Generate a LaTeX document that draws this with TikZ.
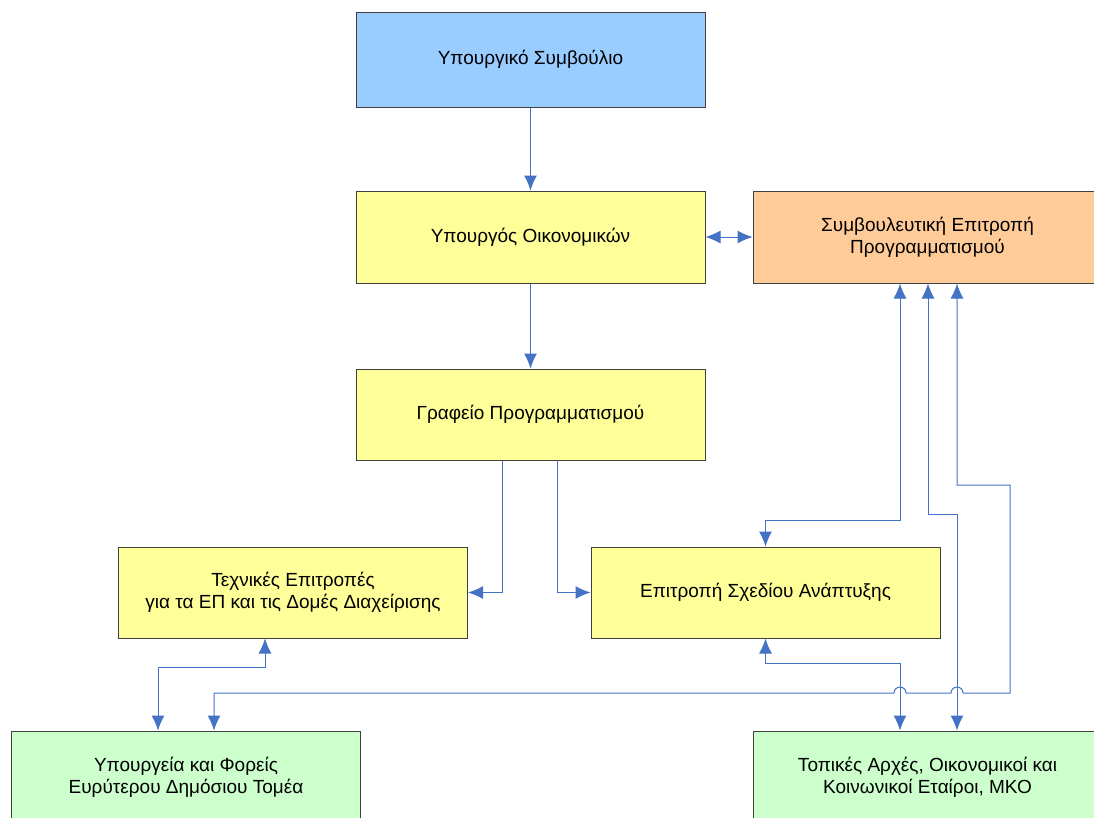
\documentclass[tikz,border=0pt]{standalone}
\usepackage{fontspec}
\setmainfont{Liberation Sans}
\usetikzlibrary{arrows.meta}

\definecolor{linkblue}{HTML}{4472C4}
\definecolor{boxblue}{HTML}{99CCFF}
\definecolor{boxyellow}{HTML}{FFFF99}
\definecolor{boxorange}{HTML}{FFCC99}
\definecolor{boxgreen}{HTML}{CCFFCC}

\tikzset{
  box/.style={draw=black!75, line width=1pt, minimum width=349pt, minimum height=92pt,
    align=center, inner sep=0pt, font=\fontsize{19}{22}\selectfont},
  link/.style={draw=linkblue, line width=1pt, -{Latex[length=15pt,width=13pt]}},
  twolink/.style={draw=linkblue, line width=1pt, {Latex[length=15pt,width=13pt]}-{Latex[length=15pt,width=13pt]}},
}

\begin{document}
\begin{tikzpicture}[x=1pt,y=1pt]
  \useasboundingbox (0,0) rectangle (1094,-817);

  % boxes
  \node[box, fill=boxblue, minimum height=95pt] (cab) at (530.5,-59.5) {Υπουργικό Συμβούλιο};
  \node[box, fill=boxyellow] (oik) at (530.5,-237) {Υπουργός Οικονομικών};
  \node[box, fill=boxorange] (symb) at (927.5,-237) {Συμβουλευτική Επιτροπή\\Προγραμματισμού};
  \node[box, fill=boxyellow, minimum height=91pt] (graf) at (530.5,-414.5) {Γραφείο Προγραμματισμού};
  \node[box, fill=boxyellow, minimum height=91pt] (tech) at (293,-592.5) {Τεχνικές Επιτροπές\\για τα ΕΠ και τις Δομές Διαχείρισης};
  \node[box, fill=boxyellow, minimum height=91pt] (plan) at (765.5,-592.5) {Επιτροπή Σχεδίου Ανάπτυξης};
  \node[box, fill=boxgreen] (ypourg) at (186,-777) {Υπουργεία και Φορείς\\Ευρύτερου Δημόσιου Τομέα};
  \node[box, fill=boxgreen] (topikes) at (927.5,-777) {Τοπικές Αρχές, Οικονομικοί και\\Κοινωνικοί Εταίροι, ΜΚΟ};

  % connectors
  \draw[link] (cab) -- (oik);
  \draw[twolink] (oik) -- (symb);
  \draw[link] (oik) -- (graf);
  \draw[link] ([xshift=-28.5pt]graf.south) |- (tech);
  \draw[link] ([xshift=26.5pt]graf.south) |- (plan);
  \draw[twolink] (plan.north) -- ++(0,26) -| ([xshift=-27.5pt]symb.south);
  \draw[twolink] ([xshift=-28pt]tech.south) -- ++(0,-29) -| ([xshift=-28pt]ypourg.north);
  \draw[twolink] ([xshift=0.5pt]symb.south) -- ++(0,-231) -| ([xshift=29.5pt]topikes.north);
  \draw[twolink] (plan.south) -- ++(0,-25) -| ([xshift=-27.5pt]topikes.north);
  \draw[twolink] ([xshift=29.5pt]symb.south) |- (1010,-485) |- (963,-693)
    arc[start angle=0, end angle=180, radius=6] -- (906,-693)
    arc[start angle=0, end angle=180, radius=6] -| ([xshift=28pt]ypourg.north);
\end{tikzpicture}
\end{document}
